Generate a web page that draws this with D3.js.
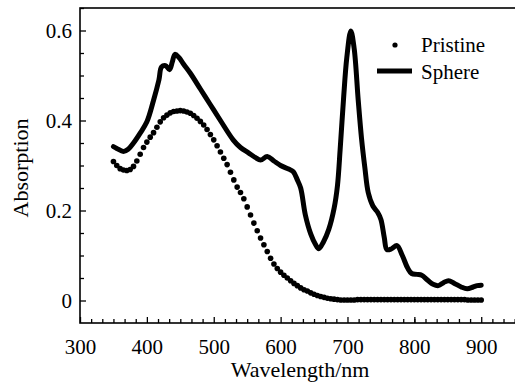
<!DOCTYPE html>
<html>
<head>
<meta charset="utf-8">
<script src="https://cdn.jsdelivr.net/npm/d3@7"></script>
<style>
  body { margin: 0; background: #fff; }
  svg { display: block; }
  svg text { font-family: "Liberation Serif", Tinos, "Times New Roman", Times, "DejaVu Serif", serif; fill: #000; }
</style>
</head>
<body>
<svg id="chart" width="515" height="385"></svg>
<script>
// ========== Data ==========

const xTicks = [300, 400, 500, 600, 700, 800, 900];
const yTicks = [0, 0.2, 0.4, 0.6];
const yTickLabels = ["0", "0.2", "0.4", "0.6"];

// Pristine: dots every 5 nm from 350 to 900
const pristineWl = d3.range(350, 901, 5);
const pristineAbs = [
  0.309, 0.300, 0.293, 0.290, 0.289, 0.291, 0.298, 0.310, 0.325, 0.340,
  0.352, 0.363, 0.373, 0.385, 0.397, 0.406, 0.412, 0.417, 0.420, 0.421,
  0.422, 0.421, 0.419, 0.416, 0.411, 0.405, 0.398, 0.390, 0.380, 0.369,
  0.357, 0.344, 0.330, 0.316, 0.302, 0.285, 0.268, 0.252, 0.240, 0.226,
  0.208, 0.190, 0.172, 0.155, 0.139, 0.124, 0.109, 0.094, 0.081, 0.071,
  0.063, 0.056, 0.050, 0.044, 0.038, 0.033, 0.028, 0.024, 0.021, 0.017,
  0.014, 0.011, 0.009, 0.007, 0.005, 0.004, 0.003, 0.002, 0.001, 0.001,
  0.001, 0.001, 0.001, 0.002, 0.002, 0.002, 0.002, 0.002, 0.002, 0.002,
  0.002, 0.002, 0.002, 0.002, 0.002, 0.002, 0.002, 0.002, 0.002, 0.002,
  0.002, 0.002, 0.002, 0.002, 0.002, 0.002, 0.002, 0.002, 0.002, 0.002,
  0.002, 0.002, 0.002, 0.002, 0.002, 0.002, 0.001, 0.001, 0.001, 0.001,
  0.001
];

// Sphere: solid line
const sphereWl = [
  350, 355, 365, 372, 380, 390, 400, 410, 418, 422, 428, 434, 438, 442, 448,
  455, 465, 480, 495, 510, 529, 540, 552, 562, 570, 580, 590, 600, 612, 619,
  625, 630, 637, 645, 652, 657, 664, 672, 680, 685, 689, 694, 699, 705, 710,
  716, 721, 726, 731, 738, 745, 750, 755, 759, 766, 774, 782, 790, 796, 804,
  811, 820, 828, 836, 844, 851, 860, 870, 879, 888, 894, 900
];
const sphereAbs = [
  0.342, 0.338, 0.331, 0.336, 0.350, 0.372, 0.397, 0.445, 0.490, 0.519, 0.522, 0.513, 0.530, 0.547, 0.540,
  0.525, 0.505, 0.470, 0.435, 0.400, 0.357, 0.340, 0.328, 0.318, 0.312, 0.320, 0.310, 0.300, 0.292, 0.286,
  0.268, 0.250, 0.190, 0.148, 0.125, 0.115, 0.130, 0.158, 0.205, 0.255, 0.335, 0.446, 0.540, 0.599, 0.560,
  0.446, 0.360, 0.295, 0.240, 0.210, 0.196, 0.180, 0.140, 0.113, 0.115, 0.122, 0.100, 0.072, 0.060, 0.058,
  0.056, 0.045, 0.036, 0.033, 0.040, 0.044, 0.038, 0.030, 0.026, 0.030, 0.033, 0.034
];

const pristine = pristineWl.map((w, i) => ({ w, a: pristineAbs[i] }));
const sphere = sphereWl.map((w, i) => ({ w, a: sphereAbs[i] }));

// ========== Chart Setup ==========

const svg = d3.select("#chart");
const margin = { top: 8, left: 80, bottom: 323, right: 516 };

const x = d3.scaleLinear().domain([300, 952]).range([margin.left, margin.right]);
const y = d3.scaleLinear().domain([-0.05, 0.65]).range([margin.bottom, margin.top]);

// frame (right edge sits just outside the window)
svg.append("rect")
  .attr("x", margin.left)
  .attr("y", margin.top)
  .attr("width", margin.right - margin.left)
  .attr("height", margin.bottom - margin.top)
  .attr("fill", "none")
  .attr("stroke", "#000")
  .attr("stroke-width", 1.6);

// minor ticks
const xMinor = d3.range(300, 951, 100 / 6).filter(v => Math.abs(((v - 300) / (100 / 6)) % 6) > 0.01);
const yMinor = d3.range(0, 0.651, 0.05).filter(v => Math.round(v * 100) % 20 !== 0);

svg.append("g")
  .attr("transform", `translate(0,${margin.bottom})`)
  .call(d3.axisBottom(x).tickValues(xMinor).tickSize(-4).tickFormat(""))
  .call(g => g.select(".domain").remove())
  .selectAll("line").attr("stroke-width", 1.3);

svg.append("g")
  .attr("transform", `translate(${margin.left},0)`)
  .call(d3.axisLeft(y).tickValues(yMinor).tickSize(-4).tickFormat(""))
  .call(g => g.select(".domain").remove())
  .selectAll("line").attr("stroke-width", 1.3);

// major ticks and labels
const xAxis = svg.append("g")
  .attr("transform", `translate(0,${margin.bottom})`)
  .call(d3.axisBottom(x).tickValues(xTicks).tickSize(-6).tickPadding(16).tickFormat(d3.format("d")));
xAxis.attr("font-family", null);
xAxis.select(".domain").remove();
xAxis.selectAll("line").attr("stroke-width", 1.3);
xAxis.selectAll("text")
  .attr("font-size", 21)
  .attr("dy", "0.71em");

const yAxis = svg.append("g")
  .attr("transform", `translate(${margin.left},0)`)
  .call(d3.axisLeft(y).tickValues(yTicks).tickSize(-6).tickPadding(8)
    .tickFormat((d, i) => yTickLabels[i]));
yAxis.attr("font-family", null);
yAxis.select(".domain").remove();
yAxis.selectAll("line").attr("stroke-width", 1.3);
yAxis.selectAll("text")
  .attr("font-size", 21);

// axis titles
svg.append("text")
  .attr("x", 300)
  .attr("y", 377)
  .attr("text-anchor", "middle")
  .attr("font-size", 22)
  .text("Wavelength/nm");

svg.append("text")
  .attr("transform", "translate(28,168) rotate(-90)")
  .attr("text-anchor", "middle")
  .attr("font-size", 22)
  .text("Absorption");

// ========== Series ==========

const line = d3.line()
  .x(d => x(d.w))
  .y(d => y(d.a))
  .curve(d3.curveCatmullRom.alpha(0.5));

svg.append("path")
  .datum(sphere)
  .attr("fill", "none")
  .attr("stroke", "#000")
  .attr("stroke-width", 5)
  .attr("stroke-linejoin", "round")
  .attr("stroke-linecap", "round")
  .attr("d", line);

svg.selectAll(".dot")
  .data(pristine)
  .join("circle")
  .attr("class", "dot")
  .attr("cx", d => x(d.w))
  .attr("cy", d => y(d.a))
  .attr("r", 2.8)
  .attr("fill", "#000");

// ========== Legend ==========

const legend = svg.append("g");
legend.append("circle")
  .attr("cx", 395).attr("cy", 45).attr("r", 2.6).attr("fill", "#000");
legend.append("text")
  .attr("x", 421).attr("y", 52).attr("font-size", 21).text("Pristine");
legend.append("line")
  .attr("x1", 377).attr("x2", 412).attr("y1", 71).attr("y2", 71)
  .attr("stroke", "#000").attr("stroke-width", 5);
legend.append("text")
  .attr("x", 421).attr("y", 79).attr("font-size", 21).text("Sphere");
</script>
</body>
</html>
